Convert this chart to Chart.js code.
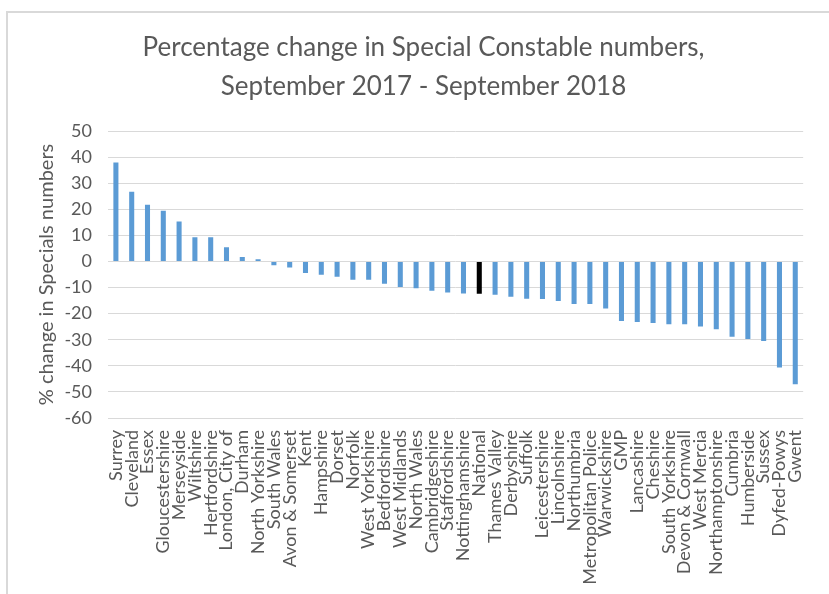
<!DOCTYPE html>
<html>
<head>
<meta charset="utf-8">
<script src="https://cdn.jsdelivr.net/npm/chart.js@4/dist/chart.umd.min.js"></script>
<style>
  html, body { margin: 0; padding: 0; background: #ffffff; }
  #wrap { position: relative; width: 829px; height: 594px; }
</style>
</head>
<body>
<div id="wrap"><canvas id="chart" width="829" height="594"></canvas></div>
<script>
// Police forces, sorted by percentage change in Special Constable numbers
const forces = [
  "Surrey", "Cleveland", "Essex", "Gloucestershire", "Merseyside", "Wiltshire",
  "Hertfordshire", "London, City of", "Durham", "North Yorkshire", "South Wales",
  "Avon & Somerset", "Kent", "Hampshire", "Dorset", "Norfolk", "West Yorkshire",
  "Bedfordshire", "West Midlands", "North Wales", "Cambridgeshire", "Staffordshire",
  "Nottinghamshire", "National", "Thames Valley", "Derbyshire", "Suffolk",
  "Leicestershire", "Lincolnshire", "Northumbria", "Metropolitan Police",
  "Warwickshire", "GMP", "Lancashire", "Cheshire", "South Yorkshire",
  "Devon & Cornwall", "West Mercia", "Northamptonshire", "Cumbria", "Humberside",
  "Sussex", "Dyfed-Powys", "Gwent"
];

// % change, September 2017 - September 2018
const pctChange = [
  37.9, 26.7, 21.7, 19.4, 15.3, 9.3,
  9.3, 5.4, 1.7, 0.8, -1.5,
  -2.3, -4.4, -5.1, -5.9, -7.0, -7.0,
  -8.5, -9.8, -10.3, -11.2, -11.9,
  -12.3, -12.4, -12.8, -13.5, -14.3,
  -14.4, -15.2, -16.3, -16.3,
  -18.0, -22.8, -23.2, -23.6, -24.1,
  -24.1, -24.9, -26.0, -28.9, -29.7,
  -30.5, -40.6, -47.1
];

const yTicks = [50, 40, 30, 20, 10, 0, -10, -20, -30, -40, -50, -60];

const forceColour = "#5b9bd5";
const nationalColour = "#000000";
const textColour = "#595959";
const gridColour = "#d9d9d9";
const fontFamily = "Lato, 'Open Sans', sans-serif";

const barColours = forces.map(f => f === "National" ? nationalColour : forceColour);

// thin grey chart frame along the top and left edges
const framePlugin = {
  id: "frame",
  beforeDraw(chart) {
    const ctx = chart.ctx;
    ctx.save();
    ctx.strokeStyle = gridColour;
    ctx.lineWidth = 2;
    ctx.beginPath();
    ctx.moveTo(7, chart.height);
    ctx.lineTo(7, 12);
    ctx.lineTo(chart.width, 12);
    ctx.stroke();
    ctx.restore();
  }
};

new Chart(document.getElementById("chart"), {
  type: "bar",
  data: {
    labels: forces,
    datasets: [{
      data: pctChange,
      backgroundColor: barColours,
      borderWidth: 0,
      barPercentage: 0.32,
      categoryPercentage: 1.0
    }]
  },
  plugins: [framePlugin],
  options: {
    responsive: false,
    animation: false,
    devicePixelRatio: 1,
    layout: { padding: { left: 30, right: 12, top: 0, bottom: 0 } },
    plugins: {
      legend: { display: false },
      tooltip: { enabled: false },
      title: {
        display: true,
        text: ["Percentage change in Special Constable numbers,", "September 2017 - September 2018"],
        color: textColour,
        font: { family: fontFamily, size: 26, weight: "normal", lineHeight: 1.5 },
        padding: { top: 28, bottom: 25 }
      }
    },
    scales: {
      x: {
        grid: { display: false, drawTicks: false },
        border: { display: false },
        ticks: {
          color: textColour,
          font: { family: fontFamily, size: 18 },
          minRotation: 90,
          maxRotation: 90,
          autoSkip: false,
          padding: 12
        },
        afterFit(scale) { scale.height = 176; }
      },
      y: {
        min: -60,
        max: 50,
        afterBuildTicks(scale) { scale.ticks = yTicks.map(v => ({ value: v })); },
        grid: { color: gridColour, lineWidth: 1, drawTicks: false },
        border: { display: false },
        ticks: {
          color: textColour,
          font: { family: fontFamily, size: 18 },
          padding: 16
        },
        title: {
          display: true,
          text: "% change in Specials numbers",
          color: textColour,
          font: { family: fontFamily, size: 20 },
          padding: { top: 5, bottom: 0 }
        },
        afterFit(scale) { scale.width = 78; }
      }
    }
  }
});
</script>
</body>
</html>
